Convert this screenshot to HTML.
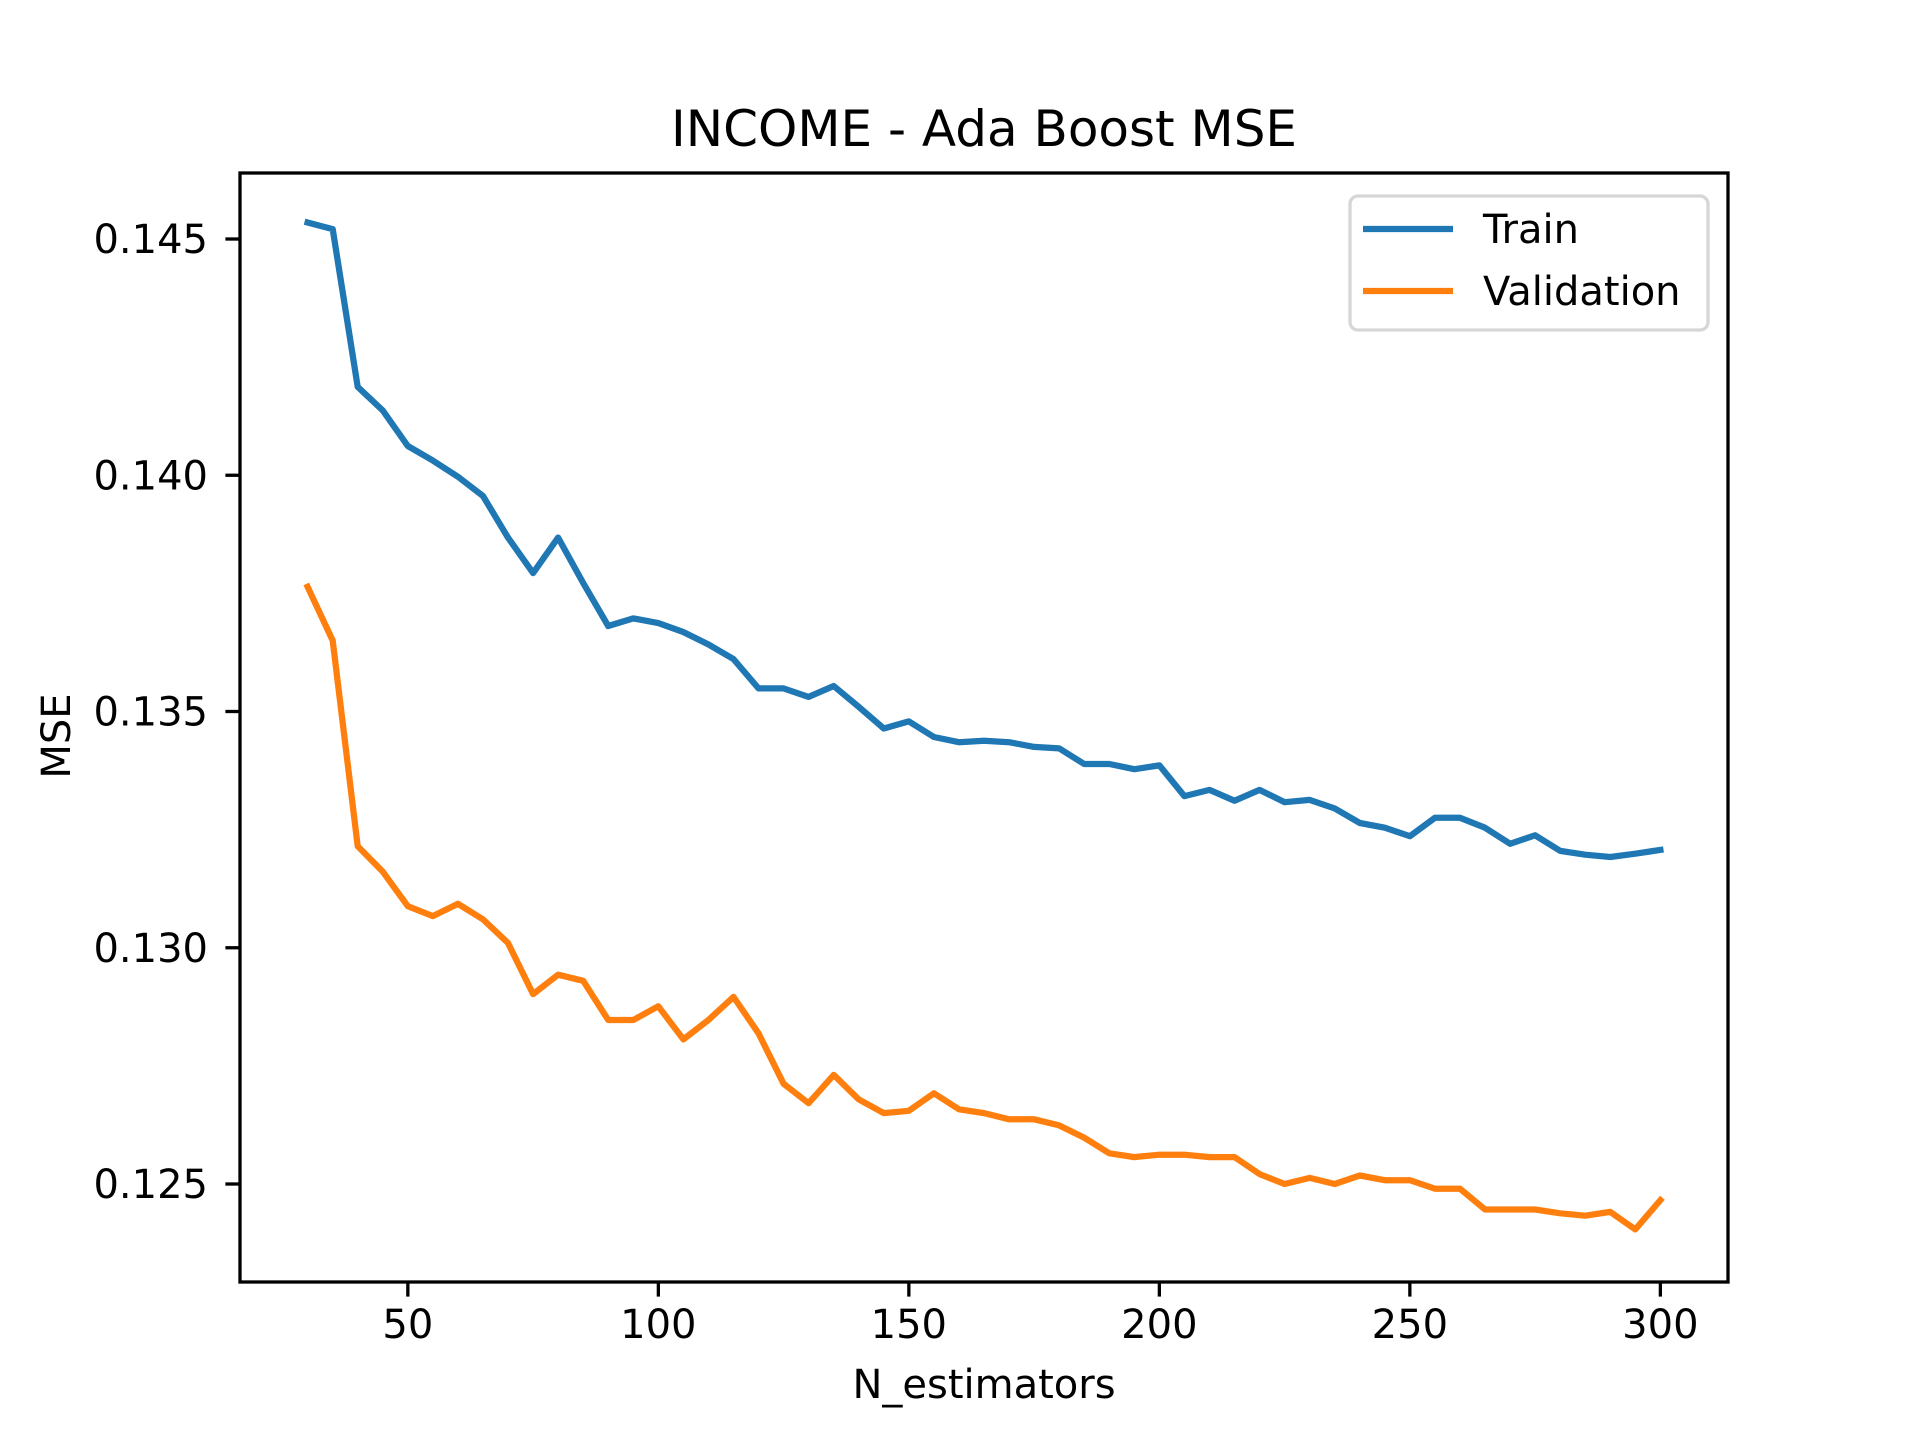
<!DOCTYPE html>
<html><head><meta charset="utf-8"><style>
html,body{margin:0;padding:0;background:#fff}
svg{display:block;font-family:"DejaVu Sans","Liberation Sans",sans-serif}
</style></head><body>
<svg id="chart" width="1920" height="1440" viewBox="0 0 1920 1440" xmlns="http://www.w3.org/2000/svg">
<rect width="1920" height="1440" fill="#fff"/>
<text x="984" y="146" font-size="50" text-anchor="middle">INCOME - Ada Boost MSE</text>
<g id="plot"></g>
<text x="984" y="1398" font-size="40" text-anchor="middle">N_estimators</text>
<text transform="translate(70,736) rotate(-90)" font-size="40" text-anchor="middle">MSE</text>
<g>
<rect x="1350" y="196" width="358" height="134" rx="8" fill="#fff" fill-opacity="0.8" stroke="#d6d6d6" stroke-width="3.3"/>
<line x1="1363" y1="229" x2="1453" y2="229" stroke="#1f77b4" stroke-width="6.25"/>
<text x="1483" y="243" font-size="40">Train</text>
<line x1="1363" y1="291" x2="1453" y2="291" stroke="#ff7f0e" stroke-width="6.25"/>
<text x="1483" y="305" font-size="40">Validation</text>
</g>
</svg>
<script>
const nEstimators = [30,35,40,45,50,55,60,65,70,75,80,85,90,95,100,105,110,115,120,125,130,135,140,145,150,155,160,165,170,175,180,185,190,195,200,205,210,215,220,225,230,235,240,245,250,255,260,265,270,275,280,285,290,295,300];
const trainMSE = [0.14535,0.14521,0.14187,0.14137,0.14062,0.14031,0.13997,0.13956,0.13868,0.13793,0.13868,0.13772,0.13681,0.13697,0.13687,0.13668,0.13642,0.13611,0.13549,0.13549,0.13531,0.13554,0.13510,0.13464,0.13479,0.13446,0.13435,0.13438,0.13435,0.13425,0.13422,0.13389,0.13389,0.13378,0.13386,0.13321,0.13334,0.13311,0.13334,0.13308,0.13313,0.13295,0.13264,0.13254,0.13236,0.13275,0.13275,0.13254,0.13220,0.13238,0.13205,0.13197,0.13192,0.13199,0.13207];
const validationMSE = [0.13764,0.13650,0.13215,0.13161,0.13088,0.13067,0.13093,0.13060,0.13010,0.12902,0.12943,0.12930,0.12847,0.12847,0.12876,0.12806,0.12847,0.12896,0.12819,0.12712,0.12671,0.12731,0.12679,0.12650,0.12655,0.12692,0.12658,0.12650,0.12637,0.12637,0.12624,0.12598,0.12565,0.12557,0.12562,0.12562,0.12557,0.12557,0.12521,0.12500,0.12513,0.12500,0.12518,0.12508,0.12508,0.12490,0.12490,0.12446,0.12446,0.12446,0.12438,0.12433,0.12441,0.12404,0.12466];
const xTicks = [50,100,150,200,250,300];
const yTicks = [0.125,0.130,0.135,0.140,0.145];
const yTickLabels = ["0.125","0.130","0.135","0.140","0.145"];

const NS="http://www.w3.org/2000/svg";
const L=240,R=1728,T=173,B=1282;
const xMin=16.5,xMax=313.5,yMin=0.122926,yMax=0.146397;
const sx=v=>L+(v-xMin)/(xMax-xMin)*(R-L);
const sy=v=>B-(v-yMin)/(yMax-yMin)*(B-T);
const g=document.getElementById('plot');
function mk(tag,attrs){const e=document.createElementNS(NS,tag);for(const k in attrs)e.setAttribute(k,attrs[k]);g.appendChild(e);return e;}

function series(vals,color,name){
  const d=vals.map((v,i)=>(i?'L':'M')+sx(nEstimators[i]).toFixed(1)+','+sy(v).toFixed(1)).join(' ');
  const p=mk('path',{d:d,fill:'none',stroke:color,'stroke-width':6.25,'stroke-linejoin':'round','stroke-linecap':'square'});
  
  
}
series(trainMSE,'#1f77b4','train-line');
series(validationMSE,'#ff7f0e','validation-line');

const frame=mk('rect',{x:L,y:T,width:R-L,height:B-T,fill:'none',stroke:'#000','stroke-width':3.3});



xTicks.forEach(v=>{
  const x=sx(v);
  const t=mk('line',{x1:x,y1:B,x2:x,y2:B+14.6,stroke:'#000','stroke-width':3.3});
  
  
  const l=mk('text',{x:x,y:B+56,'font-size':40,'text-anchor':'middle'});
  l.textContent=String(v);
  
  
});
yTicks.forEach((v,i)=>{
  const y=sy(v);
  const t=mk('line',{x1:L-14.6,y1:y,x2:L,y2:y,stroke:'#000','stroke-width':3.3});
  
  
  const l=mk('text',{x:L-32,y:y+14,'font-size':40,'text-anchor':'end'});
  l.textContent=yTickLabels[i];
  
  
});
</script>
</body></html>
